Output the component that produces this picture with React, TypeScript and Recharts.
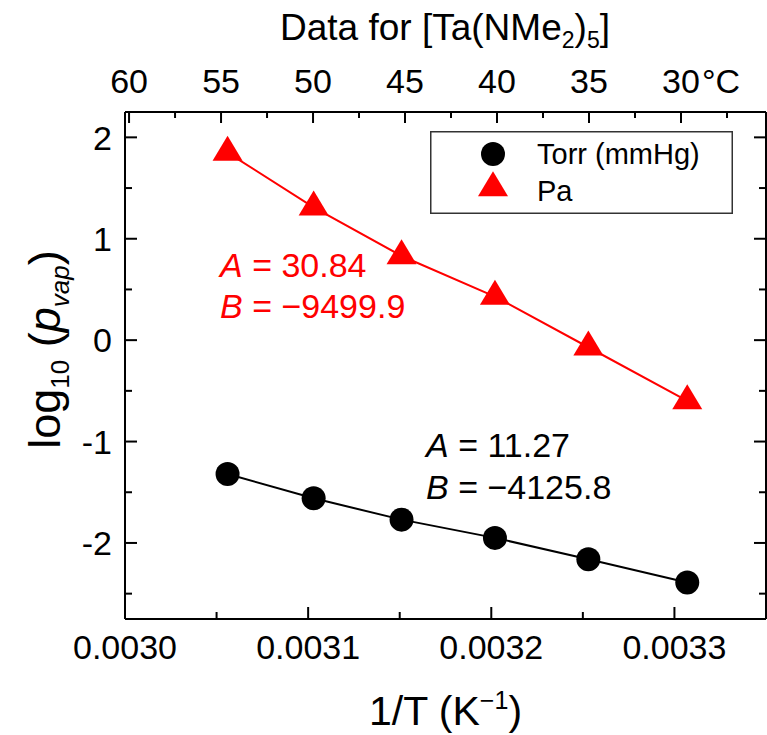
import React from 'react';
import { ScatterChart, Scatter, XAxis, YAxis, Legend, Label } from 'recharts';

// ---- data ----
const tempC = [55, 50, 45, 40, 35, 30];
const invT = [0.003056, 0.003103, 0.003151, 0.003202, 0.003253, 0.003307];
const logTorr = [-1.32, -1.56, -1.77, -1.95, -2.16, -2.39];
const logPa = [1.85, 1.31, 0.83, 0.43, -0.07, -0.6];

const xTicks = [0.003, 0.00305, 0.0031, 0.00315, 0.0032, 0.00325, 0.0033];
const yTicks = [-2.5, -2, -1.5, -1, -0.5, 0, 0.5, 1, 1.5, 2];
const tempTicks = [60, 57.5, 55, 52.5, 50, 47.5, 45, 42.5, 40, 37.5, 35, 32.5, 30, 27.5];

const seriesNames = ['Torr (mmHg)', 'Pa'];
const torrFit = { A: '11.27', B: '\u22124125.8' };
const paFit = { A: '30.84', B: '\u22129499.9' };

const torrData = invT.map((x, i) => ({ x, y: logTorr[i] }));
const paData = invT.map((x, i) => ({ x, y: logPa[i] }));
const tempData = tempC.map((t, i) => ({ t, y: logTorr[i] }));

const FONT = '"Liberation Sans", Arial, Helvetica, sans-serif';
const TICK_FS = 34;

const W = 767;
const H = 735;

const isMajorX = (v: number) => Math.abs(v * 10000 - Math.round(v * 10000)) < 1e-6;
const isMajorY = (v: number) => Math.abs(v - Math.round(v)) < 1e-6;
const isMajorT = (v: number) => Math.abs(v / 5 - Math.round(v / 5)) < 1e-6;

const BottomTick = (p: any) => {
  const v = p.payload.value;
  const major = isMajorX(v);
  return (
    <g>
      <line x1={p.x} x2={p.x} y1={p.y} y2={p.y - (major ? 12 : 7)} stroke="#000" strokeWidth={2} />
      {major && (
        <text x={p.x} y={p.y + 40} textAnchor="middle" fontSize={TICK_FS} fontFamily={FONT} fill="#000">
          {v.toFixed(4)}
        </text>
      )}
    </g>
  );
};

const TopTick = (p: any) => {
  const v = p.payload.value;
  const major = isMajorT(v);
  return (
    <g>
      <line x1={p.x} x2={p.x} y1={p.y} y2={p.y + (major ? 11 : 6)} stroke="#000" strokeWidth={2} />
      {major && (
        <text x={p.x} y={p.y - 19} textAnchor="middle" fontSize={TICK_FS} fontFamily={FONT} fill="#000">
          {String(v)}
        </text>
      )}
      {v === 30 && (
        <text x={p.x + 21} y={p.y - 19} textAnchor="start" fontSize={TICK_FS} fontFamily={FONT} fill="#000">
          {'\u00B0C'}
        </text>
      )}
    </g>
  );
};

const LeftTick = (p: any) => {
  const v = p.payload.value;
  const major = isMajorY(v);
  return (
    <g>
      <line x1={p.x} x2={p.x + (major ? 12 : 7)} y1={p.y} y2={p.y} stroke="#000" strokeWidth={2} />
      {major && (
        <text x={p.x - 13} y={p.y} dy="0.36em" textAnchor="end" fontSize={TICK_FS} fontFamily={FONT} fill="#000">
          {String(v)}
        </text>
      )}
    </g>
  );
};

const RightTick = (p: any) => {
  const v = p.payload.value;
  const major = isMajorY(v);
  return <line x1={p.x} x2={p.x - (major ? 12 : 7)} y1={p.y} y2={p.y} stroke="#000" strokeWidth={2} />;
};

const Circle = (p: any) => <circle cx={p.cx} cy={p.cy} r={12} fill="#000" />;
const Triangle = (p: any) => (
  <polygon
    points={`${p.cx},${p.cy - 16.7} ${p.cx + 15},${p.cy + 8.3} ${p.cx - 15},${p.cy + 8.3}`}
    fill="#ff0000"
  />
);
const Nothing = () => <g />;

const XLabel = (p: any) => {
  const vb = p.viewBox;
  return (
    <text x={vb.x + vb.width / 2} y={vb.y + 106} textAnchor="middle" fontSize={41} fontFamily={FONT} fill="#000">
      1/T (K
      <tspan dy={-16} fontSize={25}>{'\u22121'}</tspan>
      <tspan dy={16}>)</tspan>
    </text>
  );
};

const YLabel = (p: any) => {
  const vb = p.viewBox;
  const cx = 60;
  const cy = vb.y + vb.height / 2 - 16;
  return (
    <text
      x={cx}
      y={cy}
      transform={`rotate(-90, ${cx}, ${cy})`}
      textAnchor="middle"
      fontSize={45}
      fontFamily={FONT}
      fill="#000"
    >
      log
      <tspan dy={9} fontSize={26}>10</tspan>
      <tspan dy={-9}> (</tspan>
      <tspan fontStyle="italic">p</tspan>
      <tspan dy={9} fontSize={26} fontStyle="italic">vap</tspan>
      <tspan dy={-9}>)</tspan>
    </text>
  );
};

const LegendBox = (props: any) => {
  const payload = (props.payload || []).filter((e: any) => seriesNames.includes(e.value));
  const sorted = [...payload].sort(
    (a: any, b: any) => seriesNames.indexOf(a.value) - seriesNames.indexOf(b.value)
  );
  return (
    <svg width={303} height={83} style={{ display: 'block' }}>
      <rect x={0.75} y={0.75} width={301.5} height={81.5} fill="#fff" stroke="#333" strokeWidth={1.5} />
      {sorted.map((e: any, i: number) => {
        const cy = i === 0 ? 23 : 57;
        const by = i === 0 ? 33 : 70;
        const isCircle = e.value === seriesNames[0];
        return (
          <g key={e.value}>
            {isCircle ? (
              <circle cx={63} cy={cy} r={12} fill="#000" />
            ) : (
              <polygon points={`63,${cy - 16.7} 78,${cy + 8.3} 48,${cy + 8.3}`} fill="#ff0000" />
            )}
            <text x={107} y={by} fontSize={29} fontFamily={FONT} fill="#000">
              {e.value}
            </text>
          </g>
        );
      })}
    </svg>
  );
};

const Annotations = () => (
  <svg
    width={W}
    height={H}
    style={{ position: 'absolute', left: 0, top: 0, pointerEvents: 'none' }}
  >
    <text x={445} y={40} textAnchor="middle" fontSize={37} fontFamily={FONT} fill="#000">
      Data for [Ta(NMe
      <tspan dy={8} fontSize={23}>2</tspan>
      <tspan dy={-8}>)</tspan>
      <tspan dy={8} fontSize={23}>5</tspan>
      <tspan dy={-8}>]</tspan>
    </text>
    <g fontSize={34} fontFamily={FONT} fill="#ff0000">
      <text x={220} y={277}>
        <tspan fontStyle="italic">A</tspan> = {paFit.A}
      </text>
      <text x={220} y={318}>
        <tspan fontStyle="italic">B</tspan> = {paFit.B}
      </text>
    </g>
    <g fontSize={34} fontFamily={FONT} fill="#000">
      <text x={426} y={457}>
        <tspan fontStyle="italic">A</tspan> = {torrFit.A}
      </text>
      <text x={426} y={499}>
        <tspan fontStyle="italic">B</tspan> = {torrFit.B}
      </text>
    </g>
  </svg>
);

export default function App() {
  return (
    <div style={{ position: 'absolute', left: 0, top: 0, width: W, height: H, background: '#fff' }}>
      <ScatterChart width={W} height={H} margin={{ top: 0, right: 0, bottom: 0, left: 0 }}>
        <XAxis
          xAxisId="b"
          dataKey="x"
          type="number"
          orientation="bottom"
          domain={[0.003, 0.00335]}
          allowDataOverflow
          ticks={xTicks}
          interval={0}
          height={116}
          tickSize={0}
          tickMargin={0}
          tickLine={false}
          tick={<BottomTick />}
          axisLine={{ stroke: '#000', strokeWidth: 2 }}
        >
          <Label content={<XLabel />} />
        </XAxis>
        <XAxis
          xAxisId="t"
          dataKey="t"
          type="number"
          orientation="top"
          domain={[25.38, 60.22]}
          reversed
          allowDataOverflow
          ticks={tempTicks}
          interval={0}
          height={112}
          tickSize={0}
          tickMargin={0}
          tickLine={false}
          tick={<TopTick />}
          axisLine={{ stroke: '#000', strokeWidth: 2 }}
        />
        <YAxis
          yAxisId="l"
          dataKey="y"
          type="number"
          orientation="left"
          domain={[-2.75, 2.25]}
          allowDataOverflow
          ticks={yTicks}
          interval={0}
          width={125}
          tickSize={0}
          tickMargin={0}
          tickLine={false}
          tick={<LeftTick />}
          axisLine={{ stroke: '#000', strokeWidth: 2 }}
        >
          <Label content={<YLabel />} />
        </YAxis>
        <YAxis
          yAxisId="r"
          dataKey="y"
          type="number"
          orientation="right"
          domain={[-2.75, 2.25]}
          allowDataOverflow
          ticks={yTicks}
          interval={0}
          width={1}
          tickSize={0}
          tickMargin={0}
          tickLine={false}
          tick={<RightTick />}
          axisLine={{ stroke: '#000', strokeWidth: 2 }}
        />
        <Legend
          layout="vertical"
          align="center"
          verticalAlign="middle"
          wrapperStyle={{ left: 430, top: 131, width: 303, height: 83 }}
          content={<LegendBox />}
        />
        <Scatter
          name="temperature"
          data={tempData}
          xAxisId="t"
          yAxisId="r"
          legendType="none"
          shape={<Nothing />}
          isAnimationActive={false}
        />
        <Scatter
          name={seriesNames[0]}
          data={torrData}
          xAxisId="b"
          yAxisId="l"
          fill="#000"
          line={{ stroke: '#000', strokeWidth: 2 }}
          lineType="joint"
          shape={<Circle />}
          isAnimationActive={false}
        />
        <Scatter
          name={seriesNames[1]}
          data={paData}
          xAxisId="b"
          yAxisId="l"
          fill="#ff0000"
          line={{ stroke: '#ff0000', strokeWidth: 2 }}
          lineType="joint"
          shape={<Triangle />}
          isAnimationActive={false}
        />
      </ScatterChart>
      <Annotations />
    </div>
  );
}
